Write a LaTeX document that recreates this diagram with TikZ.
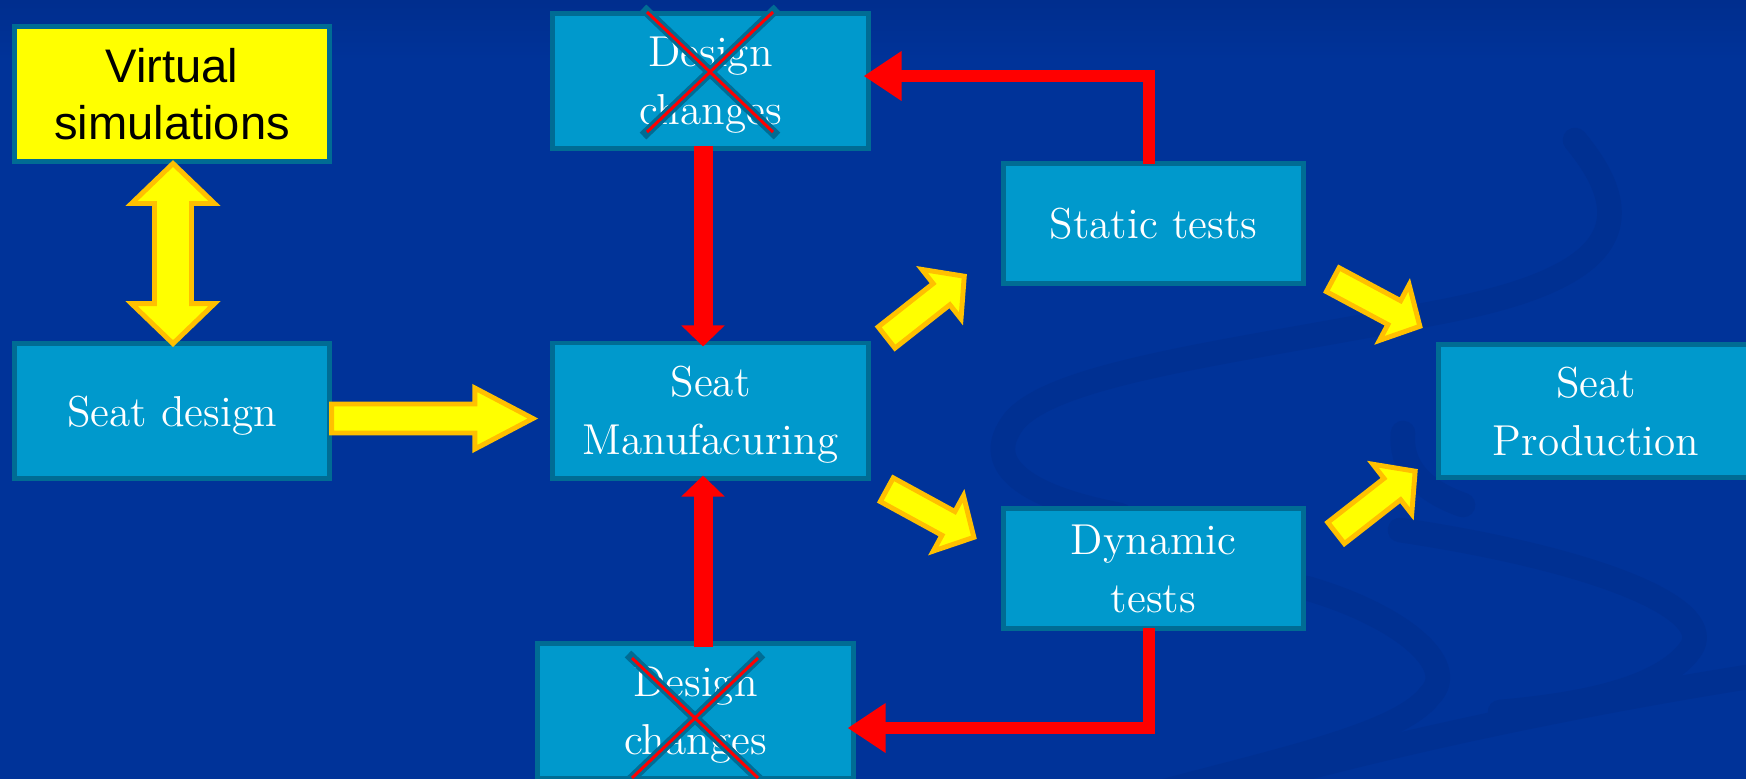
\documentclass[tikz,border=0pt]{standalone}
\usepackage{fontspec}
\newfontfamily\arialfont{Liberation Sans}
\usetikzlibrary{arrows.meta,calc}

\definecolor{bgblue}{RGB}{0,51,153}
\definecolor{bgtop}{RGB}{0,45,140}
\definecolor{swirlblue}{RGB}{0,48,146}
\definecolor{boxfill}{RGB}{0,153,204}
\definecolor{boxline}{RGB}{0,108,148}
\definecolor{arrowfill}{RGB}{255,255,0}
\definecolor{arrowline}{RGB}{255,192,0}
\definecolor{stopred}{RGB}{255,0,0}

\tikzset{
  stage/.style={draw=boxline, fill=boxfill, line width=1.4pt, text=white, align=center,
    inner sep=0pt, minimum width=3.15cm, minimum height=1.35cm, text depth=0pt,
    font=\fontsize{12.3}{16.5}\selectfont},
  testbox/.style={stage, minimum width=3.0cm, minimum height=1.2cm},
  simbox/.style={stage, fill=arrowfill, text=black, font=\arialfont\fontsize{13.4}{16.2}\selectfont},
  yblock/.style={draw=arrowline, fill=arrowfill, line width=1.4pt},
  redpath/.style={draw=stopred, line width=3.6pt, -{Triangle[length=10.8pt,width=13.4pt]}},
  redstem/.style={draw=stopred, line width=5.4pt, -{Triangle[length=6pt,width=12pt]}},
  crossteal/.style={draw=boxline, line width=2.7pt},
  crossred/.style={draw=stopred, line width=0.85pt},
  swirl/.style={draw=swirlblue, line width=7pt, line cap=round}
}

\newcommand{\fatarrow}[5]{%
  \coordinate (fa-c) at ($(#2)!#5!(#1)$);
  \draw[yblock] ($(#1)!#3!90:(#2)$) -- ($(fa-c)!#3!90:(#2)$) -- ($(fa-c)!#4!90:(#2)$) -- (#2)
    -- ($(fa-c)!#4!-90:(#2)$) -- ($(fa-c)!#3!-90:(#2)$) -- ($(#1)!#3!-90:(#2)$) -- cycle;
}
\newcommand{\fatdarrow}[5]{%
  \coordinate (fa-a) at ($(#1)!#5!(#2)$);
  \coordinate (fa-b) at ($(#2)!#5!(#1)$);
  \draw[yblock] (#1) -- ($(fa-a)!#4!90:(#2)$) -- ($(fa-a)!#3!90:(#2)$) -- ($(fa-b)!#3!90:(#2)$)
    -- ($(fa-b)!#4!90:(#2)$) -- (#2) -- ($(fa-b)!#4!-90:(#2)$) -- ($(fa-b)!#3!-90:(#2)$)
    -- ($(fa-a)!#3!-90:(#2)$) -- ($(fa-a)!#4!-90:(#2)$) -- cycle;
}
\newcommand{\strikebox}[1]{%
  \draw[crossteal] ($(#1)+(-67,-64)$) -- ($(#1)+(67,64)$) ($(#1)+(67,-64)$) -- ($(#1)+(-67,64)$);
  \draw[crossred] ($(#1)+(-63,-60)$) -- ($(#1)+(63,60)$) ($(#1)+(63,-60)$) -- ($(#1)+(-63,60)$);
}

\begin{document}
\begin{tikzpicture}[x=0.01cm,y=-0.01cm]
  \useasboundingbox (0,0) rectangle (1746,778);
  \fill[bgblue] (-10,-10) rectangle (1760,800);
  \shade[top color=bgtop, bottom color=bgblue] (-10,-10) rectangle (1760,60);

  \draw[swirl] (1575,140) .. controls (1650,230) and (1600,280) .. (1450,310) .. controls (1250,350) and (1060,370) .. (1015,420) .. controls (975,470) and (1040,500) .. (1120,515);
  \draw[swirl] (1306,588) .. controls (1400,615) and (1460,665) .. (1430,695) .. controls (1400,735) and (1280,760) .. (1150,795);
  \draw[swirl] (1400,530) .. controls (1600,560) and (1720,610) .. (1690,650) .. controls (1660,690) and (1580,705) .. (1500,712);
  \draw[swirl] (1225,790) .. controls (1400,740) and (1600,700) .. (1760,675);
  \draw[swirl] (1403,433) .. controls (1400,465) and (1420,490) .. (1463,505);

  \node[simbox] (virtual) at (172,94) {Virtual\\simulations};
  \node[stage] (design) at (172,411) {Seat design};
  \node[stage] (dtop) at (710.5,81) {Design\\changes};
  \node[stage] (manuf) at (710.5,410.5) {Seat\\Manufacuring};
  \node[stage] (dbot) at (695.5,711) {Design\\changes};
  \node[testbox] (static) at (1153.5,223.5) {Static tests};
  \node[testbox] (dynamic) at (1153.5,568.5) {Dynamic\\tests};
  \node[stage, minimum height=1.33cm] (prod) at (1596,411) {Seat\\Production};

  \draw[redpath] ($(static.north)+(-4.5,3)$) |- ($(dtop.east)+(-7,-5)$);
  \draw[redpath] ($(dynamic.south)+(-4.5,-3)$) |- ($(dbot.east)+(-8,17)$);
  \draw[redstem] ($(dtop.south)+(-7.5,-5)$) -- ($(manuf.north)+(-7.5,6)$);
  \draw[redstem] ($(dbot.north)+(7.5,6)$) -- ($(manuf.south)+(-7.5,-5)$);

  \coordinate (vs-end) at ($(virtual.south)+(1,-0.5)$);
  \coordinate (sd-end) at ($(design.north)+(1,2.6)$);
  \fatdarrow{vs-end}{sd-end}{0.185cm}{0.415cm}{0.40cm}

  \coordinate (sd-out) at ($(design.east)+(-0.5,7.5)$);
  \coordinate (sm-in) at ($(manuf.west)+(-17.6,8)$);
  \fatarrow{sd-out}{sm-in}{0.145cm}{0.305cm}{0.58cm}

  \coordinate (sm-up) at ($(manuf.north east)+(16,-3)$);
  \coordinate (st-in) at ($(static.south west)+(-36.7,-9.8)$);
  \fatarrow{sm-up}{st-in}{0.135cm}{0.315cm}{0.29cm}

  \coordinate (sm-down) at ($(manuf.south east)+(16.2,9.2)$);
  \coordinate (dy-in) at ($(dynamic.north west)+(-27.1,31.3)$);
  \fatarrow{sm-down}{dy-in}{0.135cm}{0.315cm}{0.29cm}

  \coordinate (st-out) at ($(static.south east)+(26.7,-6.3)$);
  \coordinate (sp-up) at ($(prod.north west)+(-16.1,-15.7)$);
  \fatarrow{st-out}{sp-up}{0.135cm}{0.315cm}{0.29cm}

  \coordinate (dy-out) at ($(dynamic.north east)+(30,27)$);
  \coordinate (sp-down) at ($(prod.south west)+(-20.8,-8.8)$);
  \fatarrow{dy-out}{sp-down}{0.135cm}{0.315cm}{0.29cm}

  \coordinate (x-top) at ($(dtop.center)+(-0.5,-9)$);
  \strikebox{x-top}
  \coordinate (x-bot) at ($(dbot.center)+(-0.5,7)$);
  \strikebox{x-bot}
\end{tikzpicture}
\end{document}
